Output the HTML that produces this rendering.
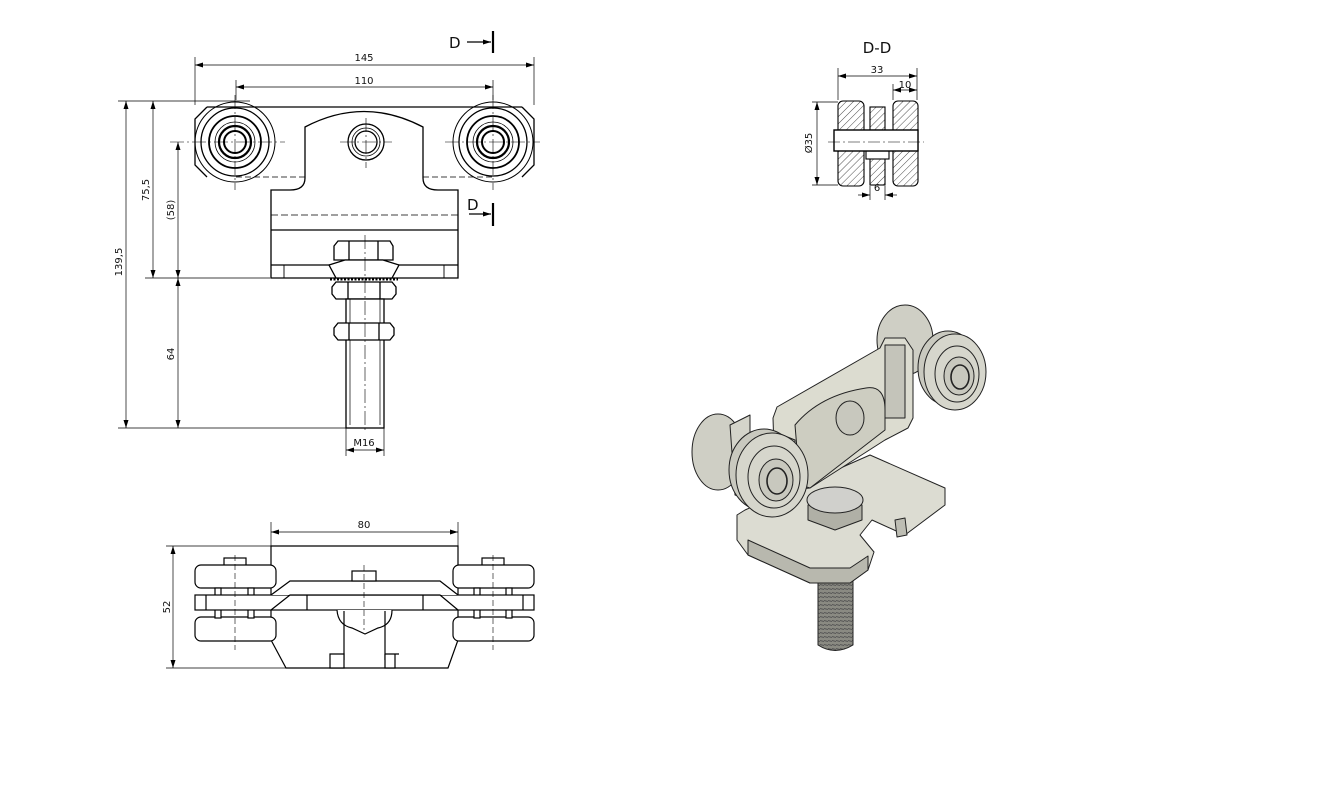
<!DOCTYPE html>
<html><head><meta charset="utf-8"><style>
html,body{margin:0;padding:0;background:#fff}
svg{display:block}
text{font-family:"DejaVu Sans","Liberation Sans",sans-serif;fill:#111}
</style></head><body>
<svg width="1326" height="800" viewBox="0 0 1326 800" xmlns="http://www.w3.org/2000/svg">
<defs>
<marker id="a" markerWidth="8" markerHeight="6" refX="8" refY="3" orient="auto-start-reverse" markerUnits="userSpaceOnUse"><path d="M0,0.5 L8,3 L0,5.5z" fill="#000"/></marker>
<pattern id="h" width="5" height="5" patternUnits="userSpaceOnUse" patternTransform="rotate(45)"><line x1="0" y1="0" x2="0" y2="5" stroke="#000" stroke-width="0.7"/></pattern>
<pattern id="th" width="4" height="4" patternUnits="userSpaceOnUse"><rect width="4" height="4" fill="#8a8a82"/><line x1="0" y1="0.5" x2="4" y2="1.5" stroke="#555" stroke-width="1"/></pattern>
</defs>

<!-- ============ FRONT VIEW ============ -->
<g fill="none" stroke="#000" stroke-width="1.3">
  <path d="M207,107 H522"/>
  <path d="M236,177 H305 M423,177 H493" stroke-dasharray="6,3" stroke-width="0.8"/>
  <path d="M207,107 L195,119 V165 L207,177"/>
  <path d="M522,107 L534,119 V165 L522,177"/>
  <g transform="translate(235,142)">
    <circle r="40" stroke-width="1"/><circle r="34"/><circle r="26" stroke-width="1.8"/><circle r="20" stroke-width="0.8"/><circle r="16" stroke-width="2.2"/><circle r="11" stroke-width="2"/>
  </g>
  <g transform="translate(493,142)">
    <circle r="40" stroke-width="1"/><circle r="34"/><circle r="26" stroke-width="1.8"/><circle r="20" stroke-width="0.8"/><circle r="16" stroke-width="2.2"/><circle r="11" stroke-width="2"/>
  </g>
  <path d="M305,178 V127 Q364,96 423,127 V178"/>
  <path d="M305,178 Q305,190 290,190 H271 V278 H458 V190 H438 Q423,190 423,178"/>
  <circle cx="366" cy="142" r="18"/><circle cx="366" cy="142" r="14" stroke-width="0.8"/><circle cx="366" cy="142" r="11"/>
  <line x1="271" y1="215" x2="458" y2="215" stroke-dasharray="7,3" stroke-width="0.8"/>
  <line x1="271" y1="230" x2="458" y2="230"/>
  <line x1="271" y1="265" x2="458" y2="265"/>
  <line x1="284" y1="265" x2="284" y2="278" stroke-width="0.9"/><line x1="444" y1="265" x2="444" y2="278" stroke-width="0.9"/>
  <path d="M334,246 L338,241 H390 L393,246 V260 H334 Z" fill="#fff"/>
  <line x1="349" y1="241" x2="349" y2="260"/><line x1="378" y1="241" x2="378" y2="260"/>
  <path d="M329,265 L345,260 H383 L399,265 L392,278 H336 Z" fill="#fff"/>
  <path d="M330,279 H398" stroke-dasharray="2,1.5" stroke-width="3"/>
  <path d="M336,282 H392 L396,287 V294 L392,299 H336 L332,294 V287 Z" fill="#fff"/>
  <line x1="348" y1="282" x2="348" y2="299"/><line x1="380" y1="282" x2="380" y2="299"/>
  <rect x="346" y="299" width="38" height="129" fill="#fff"/>
  <line x1="350" y1="299" x2="350" y2="425" stroke-width="0.7"/><line x1="380" y1="299" x2="380" y2="425" stroke-width="0.7"/>
  <path d="M338,323 H390 L394,328 V335 L390,340 H338 L334,335 V328 Z" fill="#fff"/>
  <line x1="349" y1="323" x2="349" y2="340"/><line x1="379" y1="323" x2="379" y2="340"/>
</g>
<g stroke="#000" stroke-width="0.6" stroke-dasharray="14,3,2,3" fill="none">
  <line x1="235" y1="95" x2="235" y2="190"/><line x1="170" y1="142" x2="285" y2="142"/>
  <line x1="493" y1="95" x2="493" y2="190"/><line x1="445" y1="142" x2="540" y2="142"/>
  <line x1="366" y1="118" x2="366" y2="168"/><line x1="340" y1="142" x2="392" y2="142"/>
  <line x1="365" y1="235" x2="365" y2="432"/>
</g>
<g stroke="#000" stroke-width="0.7" fill="none">
  <line x1="195" y1="57" x2="195" y2="105"/><line x1="534" y1="57" x2="534" y2="105"/>
  <line x1="195" y1="65" x2="534" y2="65" marker-start="url(#a)" marker-end="url(#a)"/>
  <line x1="236" y1="80" x2="236" y2="100"/><line x1="493" y1="80" x2="493" y2="100"/>
  <line x1="236" y1="87" x2="493" y2="87" marker-start="url(#a)" marker-end="url(#a)"/>
  <line x1="118" y1="101" x2="250" y2="101"/>
  <line x1="145" y1="278" x2="270" y2="278"/>
  <line x1="118" y1="428" x2="346" y2="428"/>
  <line x1="126" y1="101" x2="126" y2="428" marker-start="url(#a)" marker-end="url(#a)"/>
  <line x1="153" y1="101" x2="153" y2="278" marker-start="url(#a)" marker-end="url(#a)"/>
  <line x1="178" y1="142" x2="178" y2="278" marker-start="url(#a)" marker-end="url(#a)"/>
  <line x1="178" y1="278" x2="178" y2="428" marker-start="url(#a)" marker-end="url(#a)"/>
  <line x1="346" y1="428" x2="346" y2="456"/><line x1="384" y1="428" x2="384" y2="456"/>
  <line x1="346" y1="450" x2="384" y2="450" marker-start="url(#a)" marker-end="url(#a)"/>
</g>
<g font-size="10">
  <text x="364" y="61" text-anchor="middle">145</text>
  <text x="364" y="84" text-anchor="middle">110</text>
  <text x="364" y="446" text-anchor="middle">M16</text>
  <text transform="translate(122,262) rotate(-90)" text-anchor="middle">139,5</text>
  <text transform="translate(149,190) rotate(-90)" text-anchor="middle">75,5</text>
  <text transform="translate(174,210) rotate(-90)" text-anchor="middle">(58)</text>
  <text transform="translate(174,354) rotate(-90)" text-anchor="middle">64</text>
</g>
<g stroke="#000" fill="none">
  <line x1="493" y1="31" x2="493" y2="53" stroke-width="2.2"/>
  <line x1="467" y1="42" x2="491" y2="42" stroke-width="1.2" marker-end="url(#a)"/>
  <line x1="493" y1="203" x2="493" y2="226" stroke-width="2.2"/>
  <line x1="469" y1="214" x2="491" y2="214" stroke-width="1.2" marker-end="url(#a)"/>
</g>
<text x="449" y="48" font-size="15">D</text>
<text x="467" y="210" font-size="15">D</text>

<!-- ============ SECTION D-D ============ -->
<text x="877" y="53" font-size="15" text-anchor="middle">D-D</text>
<g stroke="#000" stroke-width="1.1">
  <rect x="838" y="101" width="26" height="85" rx="5" fill="url(#h)"/>
  <rect x="893" y="101" width="25" height="85" rx="5" fill="url(#h)"/>
  <rect x="870" y="107" width="15" height="23" fill="url(#h)"/>
  <rect x="870" y="158" width="15" height="27" fill="url(#h)"/>
  <rect x="866" y="151" width="23" height="8" fill="#fff"/>
  <rect x="834" y="130" width="84" height="21" fill="#fff" stroke-width="1.4"/>
</g>
<line x1="828" y1="142" x2="924" y2="142" stroke="#000" stroke-width="0.6" stroke-dasharray="12,3,2,3"/>
<g stroke="#000" stroke-width="0.7" fill="none">
  <line x1="838" y1="68" x2="838" y2="100"/><line x1="917" y1="68" x2="917" y2="100"/>
  <line x1="838" y1="76" x2="917" y2="76" marker-start="url(#a)" marker-end="url(#a)"/>
  <line x1="893" y1="84" x2="893" y2="100"/>
  <line x1="893" y1="90" x2="917" y2="90" marker-start="url(#a)" marker-end="url(#a)"/>
  <line x1="812" y1="102" x2="838" y2="102"/><line x1="812" y1="185" x2="838" y2="185"/>
  <line x1="817" y1="102" x2="817" y2="185" marker-start="url(#a)" marker-end="url(#a)"/>
  <line x1="870" y1="186" x2="870" y2="200"/><line x1="885" y1="186" x2="885" y2="200"/>
  <line x1="858" y1="195" x2="870" y2="195" marker-end="url(#a)"/><line x1="897" y1="195" x2="885" y2="195" marker-end="url(#a)"/>
</g>
<g font-size="10">
  <text x="877" y="73" text-anchor="middle">33</text>
  <text x="905" y="88" text-anchor="middle">10</text>
  <text x="877" y="191" text-anchor="middle">6</text>
  <text transform="translate(812,143) rotate(-90)" text-anchor="middle">Ø35</text>
</g>

<!-- ============ BOTTOM VIEW ============ -->
<g fill="#fff" stroke="#000" stroke-width="1.2">
  <path d="M271,546 H458 V640 L448,668 H286 L271,640 Z"/>
  <rect x="224" y="558" width="22" height="8"/><rect x="482" y="558" width="22" height="8"/>
  <rect x="195" y="565" width="81" height="23" rx="6"/>
  <rect x="453" y="565" width="81" height="23" rx="6"/>
  <rect x="195" y="617" width="81" height="24" rx="6"/>
  <rect x="453" y="617" width="81" height="24" rx="6"/>
  <rect x="215" y="588" width="6" height="30"/><rect x="248" y="588" width="6" height="30"/>
  <rect x="474" y="588" width="6" height="30"/><rect x="506" y="588" width="6" height="30"/>
  <rect x="195" y="595" width="339" height="15"/>
  <path d="M271,595 L290,581 H440 L458,595" />
  <path d="M271,610 L290,595 H440 L458,610" fill="none"/>
  <rect x="352" y="571" width="24" height="10"/>
  <path d="M337,610 Q338,625 352,628 L365,634 L378,628 Q392,625 392,610" />
  <path d="M344,611 V660 M385,611 V660" fill="none"/>
  <path d="M330,654 H344 V668 H330 Z"/><path d="M385,654 H399 M385,654 V668 H395 V654"/>
  <line x1="206" y1="595" x2="206" y2="610"/><line x1="523" y1="595" x2="523" y2="610"/>
  <line x1="307" y1="595" x2="307" y2="610"/><line x1="423" y1="595" x2="423" y2="610"/>
</g>
<g stroke="#000" stroke-width="0.6" stroke-dasharray="6,3" fill="none">
  <line x1="235" y1="555" x2="235" y2="650"/><line x1="493" y1="555" x2="493" y2="650"/>
  <line x1="364" y1="565" x2="364" y2="630"/>
</g>
<g stroke="#000" stroke-width="0.7" fill="none">
  <line x1="271" y1="522" x2="271" y2="546"/><line x1="458" y1="522" x2="458" y2="546"/>
  <line x1="271" y1="532" x2="458" y2="532" marker-start="url(#a)" marker-end="url(#a)"/>
  <line x1="166" y1="546" x2="271" y2="546"/><line x1="166" y1="668" x2="286" y2="668"/>
  <line x1="173" y1="546" x2="173" y2="668" marker-start="url(#a)" marker-end="url(#a)"/>
</g>
<text x="364" y="528" font-size="10" text-anchor="middle">80</text>
<text transform="translate(170,607) rotate(-90)" font-size="10" text-anchor="middle">52</text>

<!-- ============ 3D VIEW ============ -->
<g stroke="#222" stroke-width="1" stroke-linejoin="round">
  <path d="M818,580 V645 Q835,656 853,645 V580 Z" fill="url(#th)"/>
  <path d="M745,510 L870,455 L945,488 V505 L905,535 L872,520 L860,535 L874,552 L868,570 L850,583 L810,583 L748,555 L737,540 V515 Z" fill="#dcdcd2"/>
  <path d="M748,540 L810,568 L850,568 L868,556 V570 L850,583 L810,583 L748,555 Z" fill="#b8b8ae"/>
  <path d="M895,520 L905,518 L907,535 L897,537 Z" fill="#bdbdb3"/>
  <path d="M808,505 V520 L835,530 L862,520 V505 Z" fill="#b0b0a6"/>
  <ellipse cx="835" cy="500" rx="28" ry="13" fill="#d0d0cc"/>
  <!-- back wheels with thickness -->
  <ellipse cx="905" cy="340" rx="28" ry="35" fill="#cfcfc5"/>
  <ellipse cx="718" cy="452" rx="26" ry="38" fill="#cfcfc5"/>
  <path d="M730,425 L750,415 V500 L735,495 Z" fill="#d4d4ca"/>
  <!-- main plate -->
  <path d="M773,418 L777,407 L880,348 L885,338 L905,338 L913,350 L913,418 L908,428 L885,440 L810,488 L790,490 L775,480 Z" fill="#dcdcd0"/>
  <path d="M795,425 Q820,395 866,388 Q885,385 885,410 V430 L810,488 L800,485 Z" fill="#cdcdc1"/>
  <path d="M885,345 H905 V418 H885 Z" fill="#c4c4ba"/>
  <ellipse cx="850" cy="418" rx="14" ry="17" fill="#c8c8be"/>
  <path d="M745,445 L770,430 L795,440 V495 L770,505 L745,495 Z" fill="#c4c4ba"/>
  <!-- front wheels with tire thickness -->
  <g fill="#d6d6cc">
    <ellipse cx="948" cy="368" rx="30" ry="37" fill="#c9c9bf"/>
    <ellipse cx="955" cy="372" rx="31" ry="38"/>
    <ellipse cx="957" cy="374" rx="22" ry="28" fill="none"/>
    <ellipse cx="959" cy="376" rx="15" ry="19" fill="#c8c8be"/>
    <ellipse cx="960" cy="377" rx="9" ry="12" fill="none" stroke-width="1.6"/>
    <ellipse cx="764" cy="470" rx="35" ry="41" fill="#c9c9bf"/>
    <ellipse cx="772" cy="475" rx="36" ry="42"/>
    <ellipse cx="774" cy="477" rx="26" ry="31" fill="none"/>
    <ellipse cx="776" cy="480" rx="17" ry="21" fill="#c8c8be"/>
    <ellipse cx="777" cy="481" rx="10" ry="13" fill="none" stroke-width="1.6"/>
  </g>
</g>
</svg>
</body></html>
